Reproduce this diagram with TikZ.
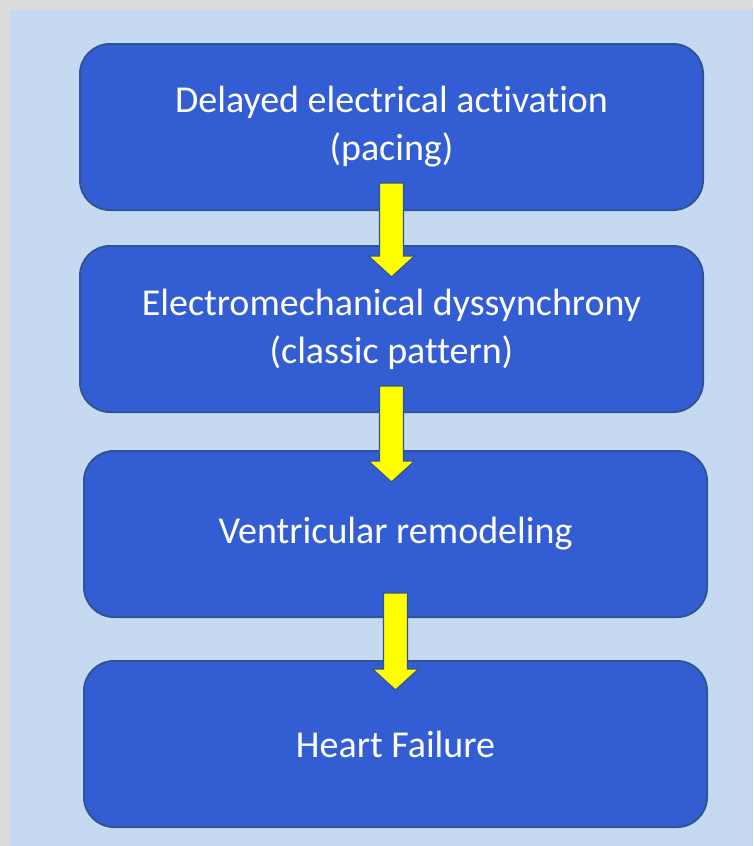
\documentclass[tikz,border=0pt]{standalone}
\usepackage{fontspec}
\setmainfont{Carlito}[Ligatures=NoCommon]
\usepackage{xcolor}
\usetikzlibrary{positioning,calc}

\definecolor{pagegray}{HTML}{DCDCDC}
\definecolor{panelblue}{HTML}{C5D9F0}
\definecolor{boxfill}{HTML}{335DD3}
\definecolor{boxline}{HTML}{2F5597}
\definecolor{arrowfill}{HTML}{FFFF00}

\begin{document}
\begin{tikzpicture}[
  x=1pt, y=-1pt,
  font=\fontsize{38}{48}\selectfont,
  node distance=35pt,
  stagebox/.style={draw=boxline, line width=2pt, fill=boxfill, text=white,
    rounded corners=30pt, align=center, minimum width=623pt, minimum height=166pt},
  flow/.style={draw=boxline, line width=1.2pt, fill=arrowfill,
    to path={let \p1=(\tikztostart), \p2=(\tikztotarget) in
      (\x1-12pt,\y1) -- (\x1+12pt,\y1) -- (\x1+12pt,\y2+21pt) -- (\x1+23pt,\y2+21pt)
      -- (\x1,\y2) -- (\x1-23pt,\y2+21pt) -- (\x1-12pt,\y2+21pt) -- cycle}}
]
\useasboundingbox (0,0) rectangle (753,846);
\fill[pagegray] (0,0) rectangle (753,846);
\fill[panelblue] (10,10) rectangle (753,846);

\node[stagebox] at (391.5,127) (delay) {Delayed electrical activation\\(pacing)};
\node[stagebox, below=34pt of delay] (dyssync) {Electromechanical dyssynchrony\\(classic pattern)};
\node[stagebox, below=37pt of dyssync, xshift=4pt] (remodel) {Ventricular remodeling};
\node[stagebox, below=42pt of remodel] (failure) {Heart Failure};

\draw[flow] ([yshift=28pt]delay.south) to ([yshift=-32pt]dyssync.north);
\draw[flow] ([yshift=27pt]dyssync.south) to ([yshift=-32pt]remodel.north);
\draw[flow] ([yshift=25pt]remodel.south) to ([yshift=-30pt]failure.north);
\end{tikzpicture}
\end{document}
